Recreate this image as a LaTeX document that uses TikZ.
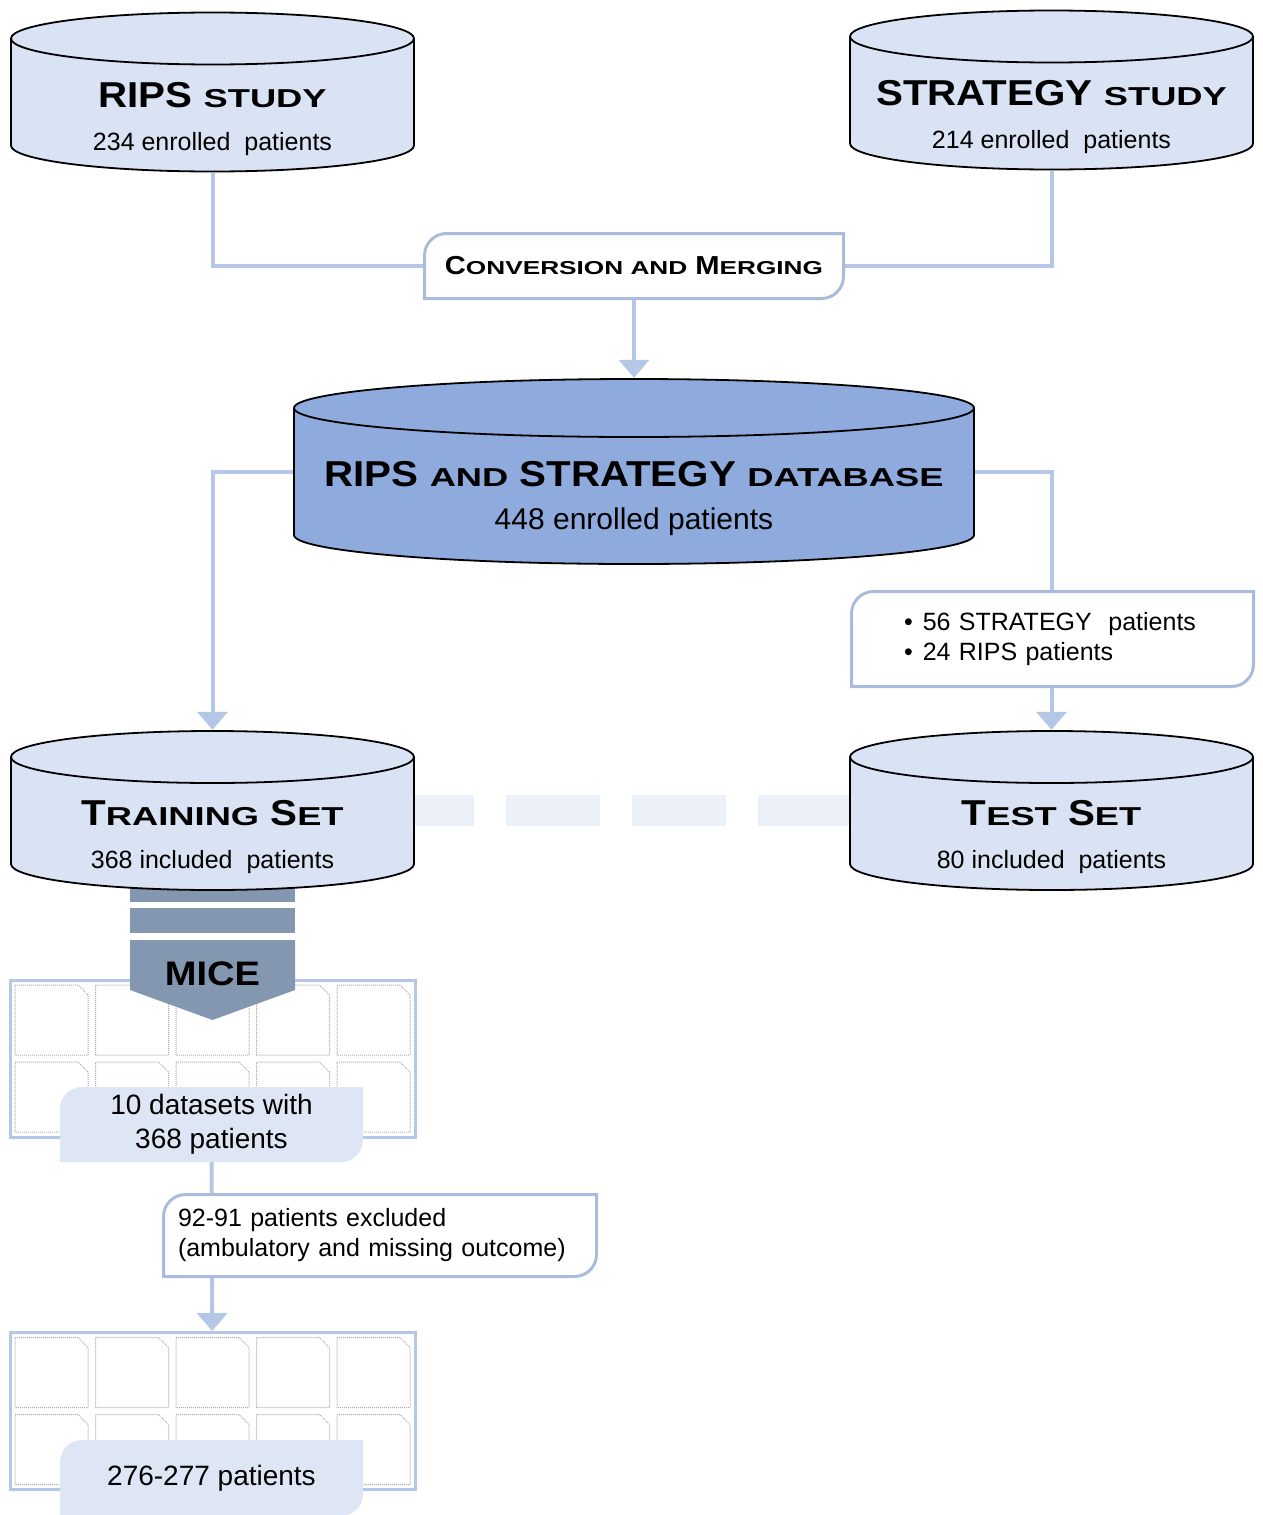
\documentclass[tikz,border=0pt]{standalone}
\usepackage{fontspec}
\setmainfont{Liberation Sans}
\newfontfamily\headfont{Liberation Sans}[FakeStretch=1.12]
\usepackage{graphicx}
\usetikzlibrary{calc,arrows.meta,positioning}

\definecolor{studyfill}{RGB}{218,227,243}
\definecolor{basefill}{RGB}{143,170,220}
\definecolor{linkblue}{RGB}{180,199,231}
\definecolor{boxedge}{RGB}{170,188,222}
\definecolor{tagfill}{RGB}{222,229,244}
\definecolor{splitfill}{RGB}{236,240,249}
\definecolor{micefill}{RGB}{132,151,176}
\definecolor{docgray}{RGB}{170,170,170}

\newcommand{\lowcaps}[1]{\scalebox{0.9}[0.72]{#1}}
\newcommand{\titlesize}{\fontsize{36}{40}\headfont\bfseries}
\newcommand{\subsize}{\fontsize{25}{30}\selectfont}
% title and count on fixed baselines below the centre of a cylinder
\newcommand{\cyltext}[2]{%
  \makebox[0pt]{\raisebox{-15pt}[0pt][0pt]{\titlesize #1}}%
  \makebox[0pt]{\raisebox{-58pt}[0pt][0pt]{#2}}}

\pgfdeclarelayer{background}
\pgfsetlayers{background,main}

\tikzset{lid/.store in=\lidsize, lid=26pt, bodyfill/.store in=\bodycolour, bodyfill=studyfill}
\tikzstyle{study} = [rectangle, inner sep=0pt, minimum width=405pt, minimum height=161pt,
    font=\subsize,
    path picture={
      \draw[line width=1.8pt, fill=\bodycolour]
        let \p1=(path picture bounding box.north west),
            \p2=(path picture bounding box.south east),
            \n1={(\x2-\x1)/2-1pt} in
        ({\x1+1pt},{\y1-1pt-\lidsize}) -- ({\x1+1pt},{\y2+1pt+\lidsize})
        arc[start angle=180, end angle=360, x radius=\n1, y radius=\lidsize]
        -- ({\x2-1pt},{\y1-1pt-\lidsize})
        arc[start angle=0, end angle=180, x radius=\n1, y radius=\lidsize] -- cycle
        ({\x1+1pt},{\y1-1pt-\lidsize})
        arc[start angle=180, end angle=360, x radius=\n1, y radius=\lidsize];}]
\tikzstyle{database} = [study, bodyfill=basefill, lid=29pt, minimum width=682pt,
    minimum height=187pt]
\tikzstyle{link} = [draw=linkblue, line width=4pt]
\tikzstyle{arrow} = [link, -{Triangle[width=30pt,length=18pt]}]
\tikzstyle{callout} = [rectangle, align=left, inner sep=0pt, font=\subsize,
    path picture={
      \draw[boxedge, fill=white, line width=3pt]
        ([shift={(1.5pt,1.5pt)}]path picture bounding box.south west)
        [rounded corners=22pt] -- ([shift={(1.5pt,-1.5pt)}]path picture bounding box.north west)
        [sharp corners] -- ([shift={(-1.5pt,-1.5pt)}]path picture bounding box.north east)
        [rounded corners=22pt] -- ([shift={(-1.5pt,1.5pt)}]path picture bounding box.south east)
        [sharp corners] -- cycle;}]
\tikzstyle{tag} = [rectangle, align=center, inner sep=0pt, font=\fontsize{28}{34}\selectfont,
    path picture={
      \fill[tagfill]
        (path picture bounding box.south west)
        [rounded corners=22pt] -- (path picture bounding box.north west)
        [sharp corners] -- (path picture bounding box.north east)
        [rounded corners=22pt] -- (path picture bounding box.south east)
        [sharp corners] -- cycle;}]
\tikzstyle{frame} = [rectangle, draw=linkblue, line width=3pt, fill=white,
    minimum width=405pt, minimum height=157pt]
\tikzstyle{page} = [draw=docgray, densely dotted, line width=1pt, fill=white]

\begin{document}
\begin{tikzpicture}[x=1pt, y=-1pt]
\useasboundingbox (0,0) rectangle (1263,1515);

% imputed datasets
\node[frame] (sets) at (212.5,1058.5) {};
\node[frame] (trimmed) at (212.5,1411) {};
\foreach \grid in {sets,trimmed}
  \foreach \col in {0,...,4}
    \foreach \row in {0,1} {
      \begin{scope}[shift={(\grid.north west)}]
        \draw[page] (6.5+\col*80.5,6.5+\row*77) -- ++(63,0) -- ++(10,10)
          -- ++(0,60) -- ++(-73,0) -- cycle;
      \end{scope}
    }

% MICE block arrow
\fill[micefill] (130,888) rectangle (295,902);
\fill[micefill] (130,908) rectangle (295,933);
\fill[micefill] (130,940) -- (295,940) -- (295,990) -- (212.5,1020) -- (130,990) -- cycle;
\node[font=\fontsize{34}{38}\headfont\bfseries] (mice) at (212.5,974) {MICE};

% studies
\node[study] (rips) at (212.5,92)
    {\cyltext{RIPS \lowcaps{STUDY}}{234 enrolled\ \ patients}};
\node[study] (strategy) at (1051.5,90)
    {\cyltext{STRATEGY \lowcaps{STUDY}}{214 enrolled\ \ patients}};

\node[callout, align=center, minimum width=422pt, minimum height=68pt,
    font=\fontsize{26}{30}\headfont\bfseries] (conv) at (634,266)
    {C\lowcaps{ONVERSION AND} M\lowcaps{ERGING}};

\node[database] (db) at (634,471.5)
    {\cyltext{RIPS \lowcaps{AND} STRATEGY \lowcaps{DATABASE}}%
     {\fontsize{30}{34}\selectfont 448 enrolled patients}};

\node[callout, inner xsep=54pt, text width=297pt, minimum height=98pt] (testpick)
    at (1052.5,639)
    {\textbullet\hspace{10pt}56 STRATEGY\ \ patients\\
     \textbullet\hspace{10pt}24 RIPS patients};

\node[study] (train) at (212.5,810.5)
    {\cyltext{T\lowcaps{RAINING} S\lowcaps{ET}}{368 included\ \ patients}};
\node[study] (test) at (1051.5,810.5)
    {\cyltext{T\lowcaps{EST} S\lowcaps{ET}}{80 included\ \ patients}};

\node[tag, minimum width=303pt, minimum height=75pt] (setstag) at (211.5,1124.5)
    {10 datasets with\\368 patients};
\node[callout, inner xsep=16pt, text width=404pt, minimum height=85pt] (drop)
    at (380,1235.5)
    {92-91 patients excluded\\(ambulatory and missing outcome)};
\node[tag, minimum width=303pt, minimum height=76pt] (trimtag) at (211.5,1478)
    {276-277 patients};

% connectors
\begin{pgfonlayer}{background}
\draw[splitfill, line width=31pt, dash pattern=on 94pt off 32pt, dash phase=85pt]
    (train.center) -- (test.center);
\draw[link] (rips) |- (conv);
\draw[link] (strategy) |- (conv);
\draw[arrow] (conv) -- (db);
\draw[arrow] (db) -| (train);
\draw[arrow] (db) -| (test);
\draw[arrow] (setstag) -- (trimmed);
\end{pgfonlayer}
\end{tikzpicture}
\end{document}
